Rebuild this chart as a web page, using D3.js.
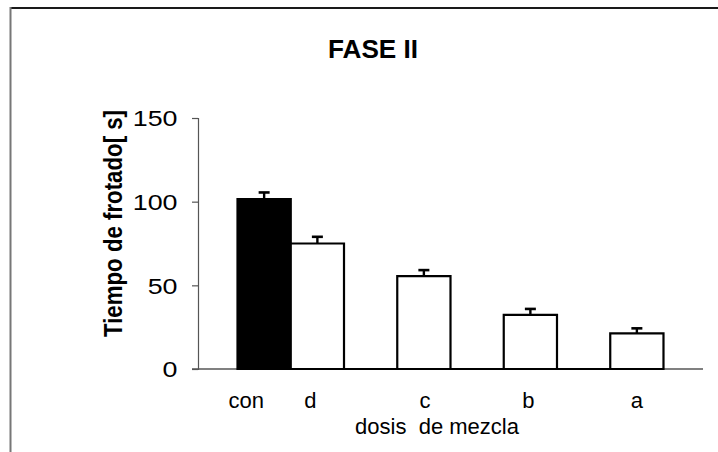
<!DOCTYPE html>
<html>
<head>
<meta charset="utf-8">
<script src="https://cdn.jsdelivr.net/npm/d3@7/dist/d3.min.js"></script>
<style>
  html, body { margin: 0; padding: 0; background: #fff; }
  svg { display: block; font-family: "Liberation Sans", Arial, sans-serif; }
</style>
</head>
<body>
<svg id="chart" width="718" height="452"></svg>
<script>
// ---- data ----
const groups = ["g1", "g2", "g3", "g4"];
const seriesNames = ["control", "mezcla"];
const controlValues = [101.5, 0, 0, 0];
const controlErrors = [4, 0, 0, 0];
const mezclaValues = [75, 55.5, 32.3, 21.3];
const mezclaErrors = [4, 3.6, 3.6, 3];
const yTicks = [0, 50, 100, 150];
const categoryLabels = ["con", "d", "c", "b", "a"];
const labelGroups = ["g1", "g1", "g2", "g3", "g4"];
const labelSeries = ["control", "mezcla", "mezcla", "mezcla", "mezcla"];
const titleText = "FASE II";
const yTitle = "Tiempo de frotado[ s]";
const xTitle = "dosis  de mezcla";

// ---- layout ----
const W = 718, H = 452;
const plot = { left: 198, right: 703, top: 118, bottom: 369 };
const labelDx = [-18, -7, 1, -2, 0];

const svg = d3.select("#chart");

// frame
svg.append("line").attr("x1", 10).attr("x2", W).attr("y1", 8).attr("y2", 8)
  .attr("stroke", "#1a1a1a").attr("stroke-width", 2);
svg.append("line").attr("x1", 10.5).attr("x2", 10.5).attr("y1", 7).attr("y2", H)
  .attr("stroke", "#777").attr("stroke-width", 2);

const y = d3.scaleLinear().domain([0, 150]).range([plot.bottom, plot.top]);
const x0 = d3.scaleBand().domain(groups).range([plot.left, plot.right])
  .paddingInner(0).paddingOuter(0.371);
const x1 = d3.scaleBand().domain(seriesNames).range([0, x0.bandwidth()]).padding(0);

// x axis line (gray)
svg.append("line").attr("x1", plot.left - 6).attr("x2", plot.right)
  .attr("y1", y(0)).attr("y2", y(0)).attr("stroke", "#808080").attr("stroke-width", 2);

// y axis
const yAxis = svg.append("g").attr("transform", `translate(${plot.left},0)`)
  .call(d3.axisLeft(y).tickValues(yTicks).tickSize(6).tickPadding(0).tickFormat(d3.format("d")));
yAxis.select(".domain").attr("stroke", "#555").attr("stroke-width", 1.2);
yAxis.selectAll(".tick line").attr("stroke", "#555").attr("stroke-width", 1.2);
yAxis.selectAll(".tick text")
  .attr("font-size", 22).attr("fill", "#000")
  .attr("font-family", "'Liberation Sans', Arial, sans-serif")
  .attr("x", 0).attr("dy", "0.36em")
  .attr("transform", "translate(-20.5,0) scale(1.22,1)");

// bars
const barData = [];
groups.forEach((g, i) => {
  barData.push({ g, s: "control", v: controlValues[i], e: controlErrors[i] });
  barData.push({ g, s: "mezcla", v: mezclaValues[i], e: mezclaErrors[i] });
});
const fill = { control: "#000", mezcla: "#fff" };

svg.append("g").selectAll("path").data(barData).join("path")
  .attr("d", d => {
    const xl = x0(d.g) + x1(d.s), xr = xl + x1.bandwidth();
    return `M${xl},${y(0)}V${y(d.v)}H${xr}V${y(0)}Z`;
  })
  .attr("fill", d => fill[d.s]).attr("stroke", "#000").attr("stroke-width", 2.2);

// error bars
const eb = svg.append("g").selectAll("g").data(barData.filter(d => d.e > 0)).join("g");
eb.append("line")
  .attr("x1", d => x0(d.g) + x1(d.s) + x1.bandwidth() / 2)
  .attr("x2", d => x0(d.g) + x1(d.s) + x1.bandwidth() / 2)
  .attr("y1", d => y(d.v)).attr("y2", d => y(d.v + d.e))
  .attr("stroke", "#000").attr("stroke-width", 2.4);
eb.append("line")
  .attr("x1", d => x0(d.g) + x1(d.s) + x1.bandwidth() / 2 - 5.5)
  .attr("x2", d => x0(d.g) + x1(d.s) + x1.bandwidth() / 2 + 5.5)
  .attr("y1", d => y(d.v + d.e)).attr("y2", d => y(d.v + d.e))
  .attr("stroke", "#000").attr("stroke-width", 2.6);

// category labels
svg.append("g").selectAll("text").data(categoryLabels).join("text")
  .attr("x", (d, i) => x0(labelGroups[i]) + x1(labelSeries[i]) + x1.bandwidth() / 2 + labelDx[i])
  .attr("y", 408)
  .attr("text-anchor", "middle").attr("font-size", 22).attr("fill", "#000")
  .text(d => d);

// x title
svg.append("text").attr("x", 437).attr("y", 434).attr("text-anchor", "middle")
  .attr("font-size", 22).attr("fill", "#000").style("white-space", "pre")
  .text(xTitle);

// title
svg.append("text").attr("x", 373).attr("y", 58).attr("text-anchor", "middle")
  .attr("font-size", 26).attr("font-weight", "bold").attr("fill", "#000")
  .attr("textLength", 90).attr("lengthAdjust", "spacingAndGlyphs")
  .text(titleText);

// y title
svg.append("text").attr("transform", "translate(122,223.5) rotate(-90)")
  .attr("text-anchor", "middle").attr("font-size", 26).attr("font-weight", "bold")
  .attr("fill", "#000").attr("textLength", 227).attr("lengthAdjust", "spacingAndGlyphs")
  .text(yTitle);
</script>
</body>
</html>
